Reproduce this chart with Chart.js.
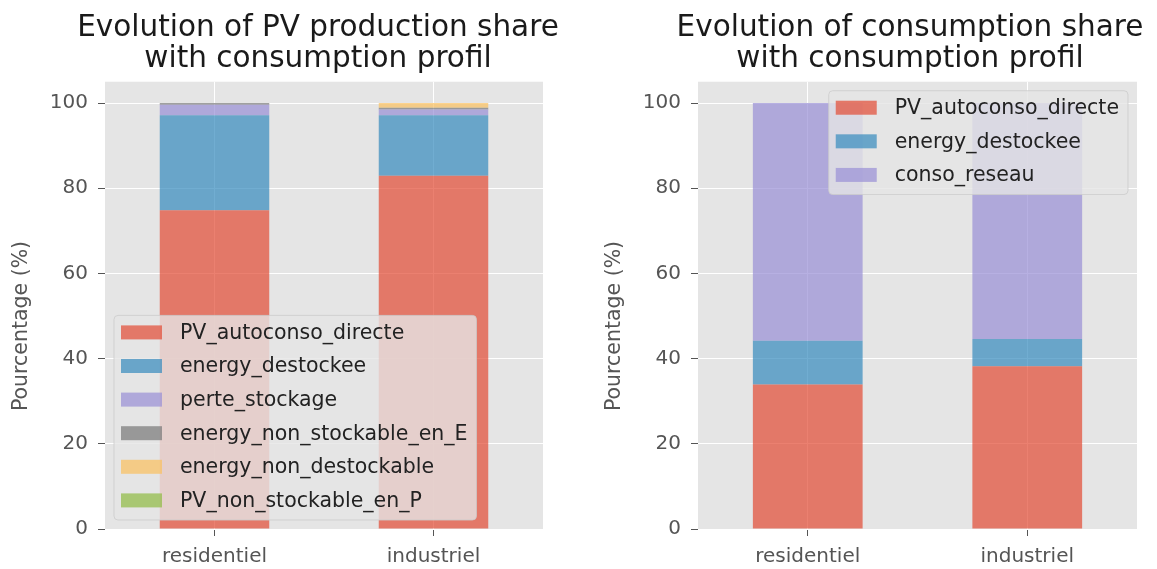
<!DOCTYPE html>
<html>
<head>
<meta charset="utf-8">
<script src="https://cdn.jsdelivr.net/npm/chart.js@4/dist/chart.umd.min.js"></script>
<style>
  html, body { margin: 0; padding: 0; background: #fff; }
  #wrap { position: relative; width: 1157px; height: 569px; overflow: hidden; }
  canvas { position: absolute; top: 0; }
</style>
</head>
<body>
<div id="wrap">
  <canvas id="prodChart" width="636" height="569" style="left:0"></canvas>
  <canvas id="consoChart" width="634" height="569" style="left:593px"></canvas>
</div>
<script>
// profils de consommation
var categories = ['residentiel', 'industriel'];
var yTicks = [0, 20, 40, 60, 80, 100];

// part de la production PV (%)
var pvAutoconsoProd = [74.8, 82.9];
var energyDestockeeProd = [22.3, 14.2];
var perteStockage = [2.5, 1.4];
var energyNonStockableE = [0.4, 0.4];
var energyNonDestockable = [0.0, 1.1];
var pvNonStockableP = [0.0, 0.0];

// part de la consommation (%)
var pvAutoconsoConso = [33.9, 38.2];
var energyDestockeeConso = [10.3, 6.4];
var consoReseau = [55.8, 55.4];

Chart.defaults.font.family = "'DejaVu Sans', sans-serif";

var colRed = 'rgba(226, 74, 51, 0.7)';
var colBlue = 'rgba(52, 138, 189, 0.7)';
var colPurple = 'rgba(152, 142, 213, 0.7)';
var colGrey = 'rgba(119, 119, 119, 0.7)';
var colYellow = 'rgba(251, 193, 94, 0.7)';
var colGreen = 'rgba(142, 186, 66, 0.7)';

// fond gris de la zone de tracé
var bgPlugin = {
  id: 'bgPlugin',
  beforeDraw: function(chart) {
    var a = chart.chartArea, ctx = chart.ctx;
    ctx.save();
    ctx.fillStyle = '#E5E5E5';
    ctx.fillRect(a.left, a.top, a.right - a.left, a.bottom - a.top);
    ctx.restore();
  }
};

// titre de l'axe y (un peu plus bas que le centre, comme sur l'original)
var yLabel = {
  id: 'yLabel',
  afterDraw: function(chart) {
    var ctx = chart.ctx;
    ctx.save();
    ctx.translate(22, 326);
    ctx.rotate(-Math.PI / 2);
    ctx.font = '20.5px "DejaVu Sans"';
    ctx.fillStyle = '#555';
    ctx.textAlign = 'center';
    ctx.textBaseline = 'middle';
    ctx.fillText('Pourcentage (%)', 0, 0);
    ctx.restore();
  }
};

// légende façon matplotlib, dans un coin de la zone
var mplLegend = {
  id: 'mplLegend',
  afterDatasetsDraw: function(chart, args, opts) {
    var ctx = chart.ctx, a = chart.chartArea;
    var sets = chart.data.datasets;
    var rowH = 33.6, pad = 9;
    ctx.save();
    ctx.font = '20.5px "DejaVu Sans"';
    var maxW = 0;
    sets.forEach(function(d) { maxW = Math.max(maxW, ctx.measureText(d.label).width); });
    var w = 7 + 41 + 18 + maxW + 9;
    var h = sets.length * rowH + 3;
    var x = opts.corner == 'tr' ? a.right - pad - w : a.left + pad;
    var y = opts.corner == 'tr' ? a.top + pad : a.bottom - pad - h;
    ctx.beginPath();
    ctx.roundRect(x, y, w, h, 4);
    ctx.fillStyle = 'rgba(229, 229, 229, 0.8)';
    ctx.fill();
    ctx.strokeStyle = 'rgba(204, 204, 204, 0.8)';
    ctx.lineWidth = 1;
    ctx.stroke();
    sets.forEach(function(d, i) {
      var cy = y + 17 + i * rowH;
      ctx.fillStyle = d.backgroundColor;
      ctx.fillRect(x + 7, cy - 7, 41, 14);
      ctx.fillStyle = '#222';
      ctx.textBaseline = 'middle';
      ctx.fillText(d.label, x + 66, cy + 1);
    });
    ctx.restore();
  }
};

function makeOptions(title, corner, rightSpace) {
  return {
    responsive: false,
    animation: false,
    layout: { padding: 0 },
    plugins: {
      legend: { display: false },
      tooltip: { enabled: false },
      title: {
        display: true,
        text: title,
        color: '#1a1a1a',
        font: { size: 29.5, weight: 'normal', lineHeight: 1.08 },
        padding: { top: 12, bottom: 6 }
      },
      mplLegend: { corner: corner }
    },
    scales: {
      x: {
        stacked: true,
        offset: true,
        border: { display: false },
        grid: { offset: false, color: '#fff', lineWidth: 1, tickLength: 7, tickColor: '#555' },
        ticks: { color: '#555', font: { size: 20 }, padding: 9 },
        afterFit: function(s) { s.height = 40; }
      },
      y: {
        stacked: true,
        min: 0,
        max: 105,
        border: { display: false },
        afterBuildTicks: function(s) { s.ticks = yTicks.map(function(v) { return { value: v }; }); },
        grid: { color: '#fff', lineWidth: 1, tickLength: 7, tickColor: '#555' },
        ticks: { color: '#555', font: { size: 20 }, padding: 10 },
        afterFit: function(s) { s.width = 105; }
      },
      // axe vide à droite : réserve la marge pour centrer le titre comme l'original
      yRight: {
        position: 'right',
        border: { display: false },
        grid: { display: false },
        ticks: { display: false },
        afterFit: function(s) { s.width = rightSpace; }
      }
    }
  };
}

function bar(label, data, color) {
  return {
    label: label,
    data: data,
    backgroundColor: color,
    borderWidth: 0,
    barPercentage: 0.5,
    categoryPercentage: 1.0
  };
}

new Chart(document.getElementById('prodChart').getContext('2d'), {
  type: 'bar',
  data: {
    labels: categories,
    datasets: [
      bar('PV_autoconso_directe', pvAutoconsoProd, colRed),
      bar('energy_destockee', energyDestockeeProd, colBlue),
      bar('perte_stockage', perteStockage, colPurple),
      bar('energy_non_stockable_en_E', energyNonStockableE, colGrey),
      bar('energy_non_destockable', energyNonDestockable, colYellow),
      bar('PV_non_stockable_en_P', pvNonStockableP, colGreen)
    ]
  },
  options: makeOptions(['Evolution of PV production share', 'with consumption profil'], 'bl', 93),
  plugins: [bgPlugin, mplLegend, yLabel]
});

new Chart(document.getElementById('consoChart').getContext('2d'), {
  type: 'bar',
  data: {
    labels: categories,
    datasets: [
      bar('PV_autoconso_directe', pvAutoconsoConso, colRed),
      bar('energy_destockee', energyDestockeeConso, colBlue),
      bar('conso_reseau', consoReseau, colPurple)
    ]
  },
  options: makeOptions(['Evolution of consumption share', 'with consumption profil'], 'tr', 90),
  plugins: [bgPlugin, mplLegend, yLabel]
});
</script>
</body>
</html>
